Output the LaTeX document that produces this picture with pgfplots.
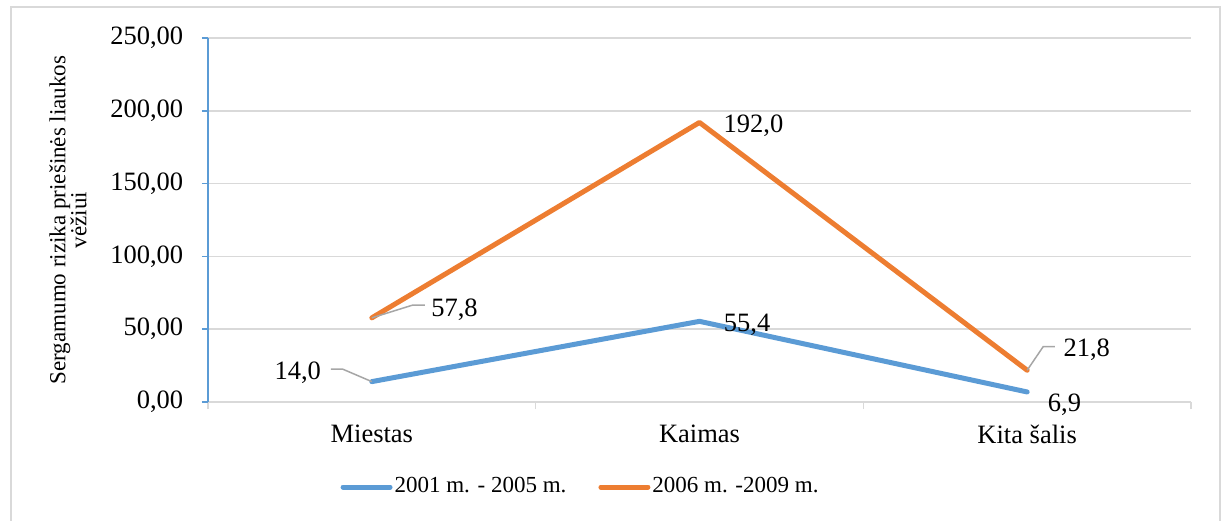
\documentclass[border=0pt]{standalone}
\usepackage{fontspec}
\setmainfont{Liberation Serif}
\usepackage{pgfplots}
\pgfplotsset{compat=1.18}

\definecolor{seriesA}{HTML}{5B9BD5}
\definecolor{seriesB}{HTML}{ED7D31}
\definecolor{gridgray}{HTML}{D9D9D9}
\definecolor{leadergray}{HTML}{A6A6A6}

\begin{document}
\fontsize{26pt}{30pt}\selectfont
\begin{tikzpicture}
% page frame
\useasboundingbox (-208pt,-118pt) rectangle (1015pt,402pt);
\draw[gridgray, line width=1.5pt] (-197pt,-125pt) rectangle (1012pt,395pt);
\begin{axis}[
  at={(0pt,0pt)}, anchor=south west,
  scale only axis, width=983pt, height=364pt,
  xmin=-0.5, xmax=2.5, ymin=0, ymax=250,
  axis x line=bottom, axis y line=left,
  axis line style={-},
  x axis line style={draw=gridgray, line width=1.5pt},
  y axis line style={draw=seriesA, line width=1.5pt},
  tick align=outside,
  ytick={0,50,...,250},
  ymajorgrids, grid style={gridgray, line width=1.5pt},
  y tick style={seriesA, line width=1.5pt},
  major tick length=6pt,
  xtick={0,1,2},
  xticklabels={Miestas,Kaimas,Kita šalis},
  major x tick style={draw=none},
  minor xtick={-0.5,0.5,1.5,2.5},
  minor x tick style={gridgray, line width=1.5pt},
  minor tick length=7pt,
  tick label style={font=\fontsize{26.5pt}{30pt}\selectfont},
  yticklabel style={
    /pgf/number format/.cd, fixed, fixed zerofill, precision=2,
    use comma, assume math mode=true,
    /tikz/.cd, xshift=-10pt},
  xticklabel style={yshift=-8pt},
  ylabel={Sergamumo rizika priešinės liaukos\\vėžiui},
  ylabel style={at={(axis description cs:-0.1425,0.5)}, anchor=center,
    align=center, font=\fontsize{23pt}{21pt}\selectfont},
  legend columns=2,
  legend style={at={(0.379,-0.2335)}, anchor=center, draw=none,
    font=\fontsize{23pt}{27pt}\selectfont,
    /tikz/every even column/.append style={column sep=30pt}},
  legend image code/.code={\draw[#1, line cap=round] (0pt,0pt) -- (47pt,0pt);},
  clip=false,
]
\addplot[seriesA, line width=5pt, line join=round, line cap=round]
  coordinates {(0,14.0) (1,55.4) (2,6.9)};
\addlegendentry{2001 m. - 2005 m.}
\addplot[seriesB, line width=5pt, line join=round, line cap=round]
  coordinates {(0,57.8) (1,192.0) (2,21.8)};
\addlegendentry{2006 m. -2009 m.}

% leader lines for the detached value labels
\draw[leadergray, line width=1.5pt] (axis cs:0,57.8) -- ++(41pt,12.8pt) -- ++(12pt,0pt);
\draw[leadergray, line width=1.5pt] (axis cs:0,14.0) -- ++(-29.4pt,12.6pt) -- ++(-11.6pt,0pt);
\draw[leadergray, line width=1.5pt] (axis cs:2,21.8) -- ++(16pt,23.6pt) -- ++(11.7pt,0pt);

% value labels
\begin{scope}[every node/.style={inner sep=3.33pt, font=\fontsize{26.5pt}{30pt}\selectfont}]
\node[anchor=base west, xshift=56pt, yshift=1pt] at (axis cs:0,57.8) {57,8};
\node[anchor=base east, xshift=-47.4pt, yshift=2.3pt] at (axis cs:0,14.0) {14,0};
\node[anchor=base west, xshift=20.6pt, yshift=-10.3pt] at (axis cs:1,192.0) {192,0};
\node[anchor=base west, xshift=20.9pt, yshift=-10.4pt] at (axis cs:1,55.4) {55,4};
\node[anchor=base west, xshift=32.8pt, yshift=13.6pt] at (axis cs:2,21.8) {21,8};
\node[anchor=base west, xshift=17.2pt, yshift=-19.7pt] at (axis cs:2,6.9) {6,9};
\end{scope}
\end{axis}
\end{tikzpicture}
\end{document}
